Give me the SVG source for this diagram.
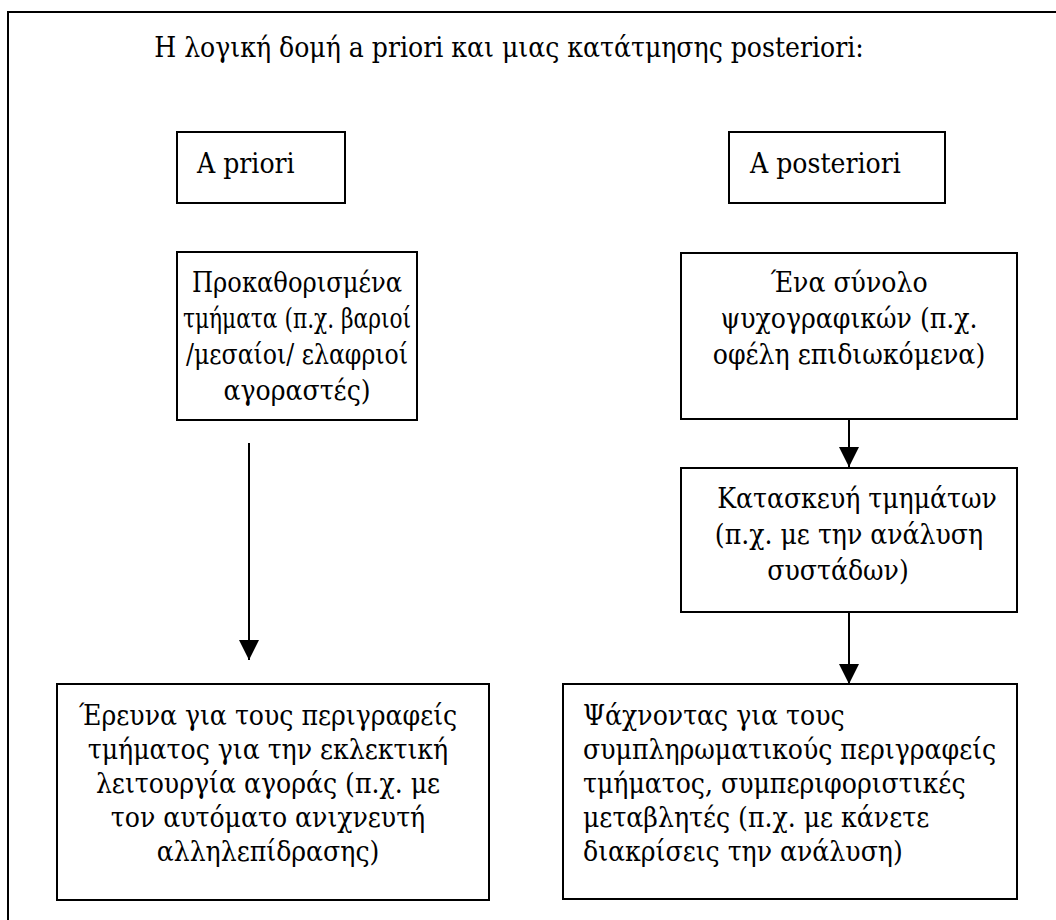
<svg xmlns="http://www.w3.org/2000/svg" width="1056" height="920" viewBox="0 0 1056 920">
  <defs>
    <marker id="arrowhead" markerUnits="userSpaceOnUse" markerWidth="20" markerHeight="20" refX="20" refY="10" orient="auto">
      <path d="M0,0 L20,10 L0,20 Z" fill="#000"/>
    </marker>
  </defs>
  <style>
    .box { fill: #fff; stroke: #000; stroke-width: 2; }
    .frame { fill: none; stroke: #000; stroke-width: 2; }
    .edge { stroke: #000; stroke-width: 2; fill: none; marker-end: url(#arrowhead); }
    text { font-family: "DejaVu Serif Condensed", "DejaVu Serif", serif; font-stretch: condensed; font-size: 28px; fill: #000; }
    .mid { text-anchor: middle; }
  </style>
  <rect width="1056" height="920" fill="#fff"/>

  <!-- outer frame, running past the right and bottom edges -->
  <rect class="frame" x="8" y="12" width="1060" height="930"/>

  <text id="title" class="mid" x="509" y="57">Η λογική δομή a priori και μιας κατάτμησης posteriori:</text>

  <g id="apriori">
    <rect class="box" x="177" y="132" width="168" height="71"/>
    <text x="197" y="173">A priori</text>
  </g>

  <g id="aposteriori">
    <rect class="box" x="729" y="132" width="216" height="71"/>
    <text x="750" y="173">A posteriori</text>
  </g>

  <g id="predefined">
    <rect class="box" x="177" y="252" width="240" height="168"/>
    <text class="mid" x="297" y="292" textLength="210" lengthAdjust="spacingAndGlyphs">Προκαθορισμένα</text>
    <text class="mid" x="297" y="328" textLength="228" lengthAdjust="spacingAndGlyphs">τμήματα (π.χ. βαριοί</text>
    <text class="mid" x="297" y="364" textLength="222" lengthAdjust="spacingAndGlyphs">/μεσαίοι/ ελαφριοί</text>
    <text class="mid" x="297" y="400">αγοραστές)</text>
  </g>

  <g id="psychographic">
    <rect class="box" x="681" y="253" width="336" height="166"/>
    <text class="mid" x="849" y="292">Ένα σύνολο</text>
    <text class="mid" x="849" y="328">ψυχογραφικών (π.χ.</text>
    <text class="mid" x="849" y="364">οφέλη επιδιωκόμενα)</text>
  </g>

  <g id="construction">
    <rect class="box" x="681" y="468" width="336" height="144"/>
    <text class="mid" x="857" y="508">Κατασκευή τμημάτων</text>
    <text class="mid" x="849" y="544">(π.χ. με την ανάλυση</text>
    <text class="mid" x="838" y="580">συστάδων)</text>
  </g>

  <g id="research">
    <rect class="box" x="57" y="684" width="432" height="216"/>
    <text class="mid" x="268" y="725">Έρευνα για τους περιγραφείς</text>
    <text class="mid" x="268" y="759">τμήματος για την εκλεκτική</text>
    <text class="mid" x="268" y="793">λειτουργία αγοράς (π.χ. με</text>
    <text class="mid" x="268" y="827">τον αυτόματο ανιχνευτή</text>
    <text class="mid" x="268" y="861">αλληλεπίδρασης)</text>
  </g>

  <g id="searching">
    <rect class="box" x="563" y="684" width="454" height="215"/>
    <text x="583" y="725">Ψάχνοντας για τους</text>
    <text x="583" y="759">συμπληρωματικούς περιγραφείς</text>
    <text x="583" y="793">τμήματος, συμπεριφοριστικές</text>
    <text x="583" y="827">μεταβλητές (π.χ. με κάνετε</text>
    <text x="583" y="861">διακρίσεις την ανάλυση)</text>
  </g>

  <g id="connectors">
    <line class="edge" x1="249" y1="443" x2="249" y2="660"/>
    <line class="edge" x1="849" y1="420" x2="849" y2="467"/>
    <line class="edge" x1="849" y1="613" x2="849" y2="684"/>
  </g>
</svg>
